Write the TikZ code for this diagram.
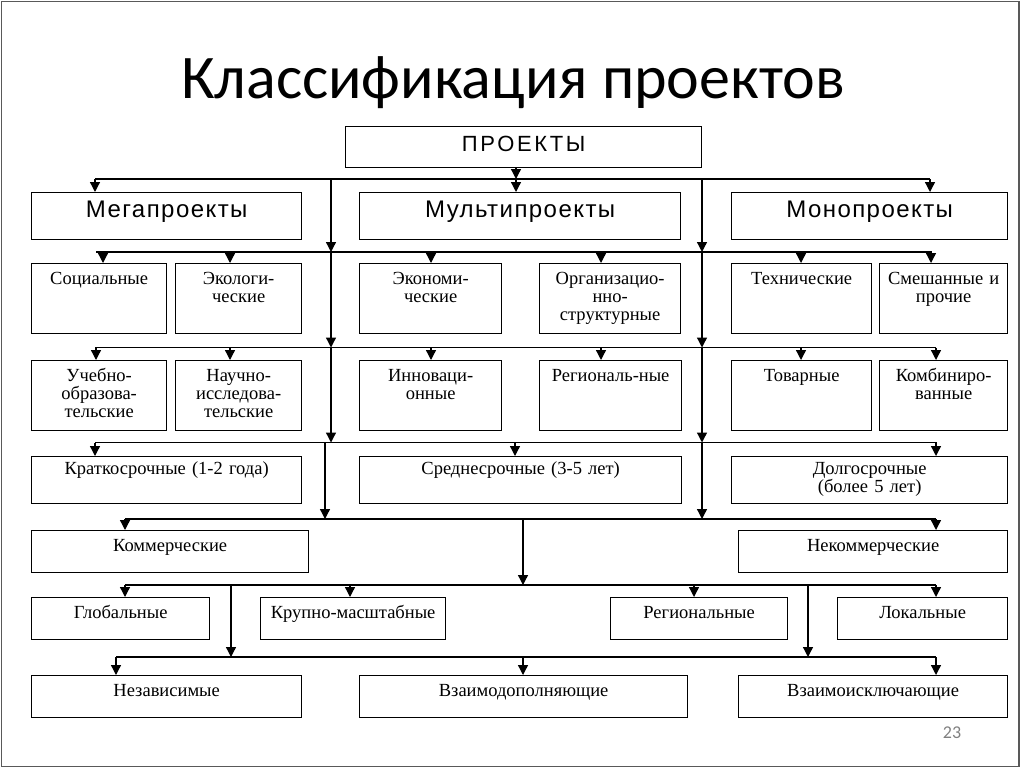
\documentclass[tikz,border=0pt]{standalone}
\usepackage{fontspec}
\setmainfont{Liberation Serif}
\newfontfamily\headfont{Liberation Sans}[LetterSpace=6]
\newfontfamily\capsfont{Liberation Sans}[LetterSpace=12]
\newfontfamily\titlefont{Carlito}
\usetikzlibrary{arrows.meta}

\tikzset{
  cell/.style={draw, line width=1.3pt, anchor=north west, inner xsep=0pt, inner ysep=0pt,
    align=center, font=\fontsize{18.5}{18}\selectfont},
  arr/.style={line width=1.3pt, -{Triangle[width=10pt,length=10pt]}},
  bus/.style={line width=1.3pt},
  head/.style={font=\headfont\fontsize{24}{24}\selectfont, text height=25pt, text depth=22pt},
  tall/.style={text height=20.5pt, text depth=49.5pt},
  mid/.style={text height=18pt, text depth=29pt},
  low/.style={text height=21pt, text depth=20.5pt}
}

\begin{document}
\begin{tikzpicture}[x=1pt,y=-1pt]
  \useasboundingbox (0,0) rectangle (1024,768);
  \draw[gray!70!black, line width=1.2pt] (1.5,1.5) rectangle (1019,766.5); % slide frame
  \node[anchor=base, font=\titlefont\fontsize{62}{62}\selectfont] (title) at (513,98) {Классификация проектов};

  \node[cell, font=\capsfont\fontsize{22}{22}\selectfont, text width=356pt, text height=24.5pt, text depth=16.5pt] (proj) at (345,126) {ПРОЕКТЫ};

  % first level
  \node[cell, head, text width=270pt] (mega) at (31,192) {Мегапроекты};
  \node[cell, head, text width=321pt] (multi) at (359,192) {Мультипроекты};
  \node[cell, head, text width=276pt] (mono) at (731,192) {Монопроекты};

  % by field
  \node[cell, tall, text width=135pt] (soc) at (31,263) {Социальные};
  \node[cell, tall, text width=126pt] (eco) at (175,263) {Экологи-\\ческие};
  \node[cell, tall, text width=142pt] (econ) at (359,263) {Экономи-\\ческие};
  \node[cell, tall, text width=141pt] (org) at (539,263) {Организацио-\\нно-\\структурные};
  \node[cell, tall, text width=140pt] (tech) at (731,263) {Технические};
  \node[cell, tall, text width=128pt] (mix) at (879,263) {Смешанные и\\прочие};

  \node[cell, tall, text width=135pt] (edu) at (31,360) {Учебно-\\образова-\\тельские};
  \node[cell, tall, text width=126pt] (sci) at (175,360) {Научно-\\исследова-\\тельские};
  \node[cell, tall, text width=142pt] (innov) at (359,360) {Инноваци-\\онные};
  \node[cell, tall, text width=142pt] (reg) at (539,360) {Региональ-ные};
  \node[cell, tall, text width=140pt] (goods) at (731,360) {Товарные};
  \node[cell, tall, text width=128pt] (comb) at (879,360) {Комбиниро-\\ванные};

  % by duration
  \node[cell, mid, text width=270pt] (short) at (31,456) {Краткосрочные (1-2 года)};
  \node[cell, mid, text width=322pt] (middle) at (359,456) {Среднесрочные (3-5 лет)};
  \node[cell, mid, text width=276pt] (long) at (731,456) {Долгосрочные\\(более 5 лет)};

  \node[cell, low, text width=277pt] (comm) at (31,530) {Коммерческие};
  \node[cell, low, text width=269pt] (noncomm) at (738,530) {Некоммерческие};

  \node[cell, low, text width=178pt] (glob) at (31,597) {Глобальные};
  \node[cell, low, text width=185pt] (large) at (260,597) {Крупно-масштабные};
  \node[cell, low, text width=177pt] (regl) at (610,597) {Региональные};
  \node[cell, low, text width=170pt] (loc) at (837,597) {Локальные};

  \node[cell, low, text width=270pt] (indep) at (31,675) {Независимые};
  \node[cell, low, text width=328pt] (compl) at (359,675) {Взаимодополняющие};
  \node[cell, low, text width=269pt] (excl) at (738,675) {Взаимоисключающие};

  \node[anchor=base, font=\titlefont\fontsize{18}{18}\selectfont, text=gray] (page) at (952,738) {23};

  % horizontal lines
  \coordinate (bus1) at (0,179);
  \coordinate (bus2) at (0,252);
  \coordinate (bus3) at (0,347.5);
  \coordinate (bus4) at (0,442.5);
  \coordinate (bus5) at (0,519);
  \coordinate (bus6) at (0,585);
  \coordinate (bus7) at (0,657);
  \foreach \b/\l/\r in {bus1/95/930, bus2/96/932, bus3/95/936, bus4/95/937,
                        bus5/125/936, bus6/125/936, bus7/116/936}
    \draw[bus] (\l,0 |- \b) -- (\r,0 |- \b);

  % vertical lines between the levels
  \draw[arr] (516,0 |- proj.south) -- (516,0 |- bus1);
  \foreach \x/\a/\b in {331/bus1/bus2, 331/bus2/bus3, 331/bus3/bus4, 325/bus4/bus5,
                        702/bus1/bus2, 702/bus2/bus3, 702/bus3/bus4, 702/bus4/bus5,
                        523/bus5/bus6, 231/bus6/bus7, 808/bus6/bus7}
    \draw[arr] (\x,0 |- \a) -- (\x,0 |- \b);

  % arrows down to the boxes
  \foreach \x/\n in {95/mega, 516/multi, 930/mono}
    \draw[arr] (\x,0 |- bus1) -- (\x,0 |- \n.north);
  \foreach \x/\n in {103/soc, 230/eco, 431/econ, 601/org, 801/tech, 931/mix}
    \draw[arr] (\x,0 |- bus2) -- (\x,0 |- \n.north);
  \foreach \x/\n in {96/edu, 230/sci, 431/innov, 601/reg, 801/goods, 936/comb}
    \draw[arr] (\x,0 |- bus3) -- (\x,0 |- \n.north);
  \foreach \x/\n in {95/short, 515/middle, 936/long}
    \draw[arr] (\x,0 |- bus4) -- (\x,0 |- \n.north);
  \foreach \x/\n in {125/comm, 936/noncomm}
    \draw[arr] (\x,0 |- bus5) -- (\x,0 |- \n.north);
  \foreach \x/\n in {125/glob, 350/large, 694/regl, 936/loc}
    \draw[arr] (\x,0 |- bus6) -- (\x,0 |- \n.north);
  \foreach \x/\n in {116/indep, 523/compl, 936/excl}
    \draw[arr] (\x,0 |- bus7) -- (\x,0 |- \n.north);
\end{tikzpicture}
\end{document}
